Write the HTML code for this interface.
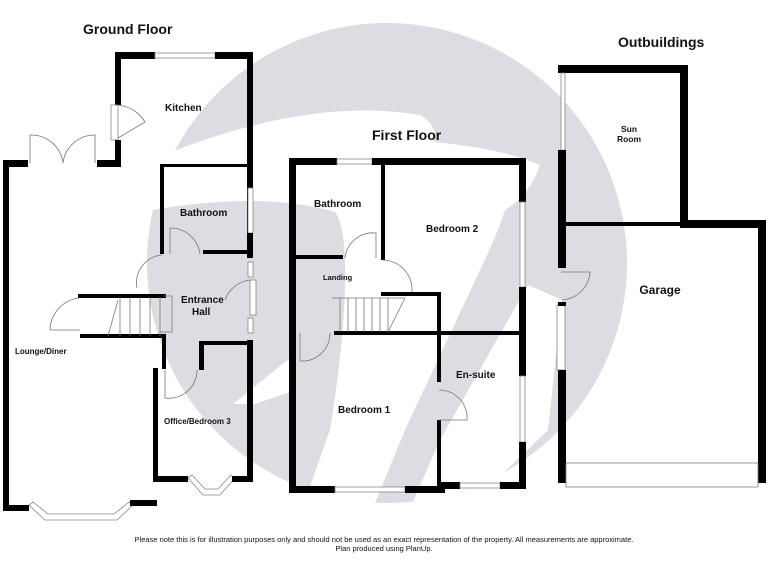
<!DOCTYPE html>
<html><head><meta charset="utf-8"><style>
html,body{margin:0;padding:0;background:#fff;width:768px;height:576px;overflow:hidden}
svg{display:block}
text{font-family:"Liberation Sans",Arial,sans-serif;fill:#111}
.w{fill:#000}
.t{fill:none;stroke:#777;stroke-width:.8}
.win{fill:#fff;stroke:#888;stroke-width:.8}
</style></head><body>
<svg width="768" height="576" viewBox="0 0 768 576">
<!-- watermark -->
<defs><clipPath id="c"><circle cx="387" cy="263" r="240"/></clipPath></defs>
<circle cx="387" cy="263" r="240" fill="#dcdce3"/>
<g clip-path="url(#c)" fill="#fff">
<path d="M140 165 Q300 95 420 115 Q438 125 434 142 Q500 148 540 165 Q530 195 505 210 Q497 235 480 270 L405 430 L368 520 L298 520 L330 430 Q346 330 345 270 Q345 225 335 212 Q260 190 140 212Z"/>
<path d="M528 285 L562 300 L548 430 L470 505 L405 520 L440 440 Z"/>
<path d="M233 404 L290 358 L290 392 L255 404Z"/>
</g>

<!-- titles -->
<text x="83" y="34" font-size="14" font-weight="bold">Ground Floor</text>
<text x="372" y="140" font-size="14" font-weight="bold">First Floor</text>
<text x="618" y="47" font-size="14" font-weight="bold">Outbuildings</text>

<!-- GROUND FLOOR -->
<g>
<rect class="w" x="115" y="52" width="40" height="7"/>
<rect class="win" x="155" y="53" width="60" height="5"/>
<rect class="w" x="215" y="52" width="38" height="7"/>
<rect class="w" x="115" y="52" width="6" height="53"/>
<rect class="win" x="111" y="105" width="7" height="35"/>
<path class="t" d="M118 105 A35 35 0 0 1 145 122 L118 138"/>
<rect class="w" x="115" y="140" width="6" height="27"/>
<rect class="w" x="97" y="160" width="24" height="7"/>
<rect class="w" x="3" y="160" width="25" height="7"/>
<path class="t" d="M30 163 V135 A32 32 0 0 1 63 163 A32 32 0 0 1 95 135 V163"/>
<rect class="w" x="3" y="160" width="6" height="350"/>
<rect class="w" x="247" y="52" width="6" height="205"/>
<rect class="win" x="248" y="188" width="5" height="45"/>
<rect class="w" x="247" y="233" width="6" height="25"/>
<rect class="win" x="248" y="262" width="5" height="15"/>
<rect class="win" x="250" y="280" width="6" height="35"/>
<path class="t" d="M250 280 A30 30 0 0 0 225 300"/>
<rect class="win" x="248" y="318" width="5" height="15"/>
<rect class="w" x="247" y="340" width="6" height="140"/>
<rect class="w" x="160" y="164" width="90" height="3"/>
<rect class="w" x="160" y="164" width="4" height="90"/>
<rect class="w" x="203" y="250" width="47" height="4"/>
<path class="t" d="M170 254 V228 A30 30 0 0 1 200 254"/>
<path class="t" d="M162 255 A28 28 0 0 0 137 288"/>
<rect class="w" x="78" y="294" width="88" height="4"/>
<rect class="w" x="80" y="334" width="84" height="4"/>
<path class="t" d="M120 297 V336 M130 297 V336 M140 297 V336 M150 297 V336 M160 297 V336 M163 296 H172 V332 H160 M108 336 L118 300"/>
<path class="t" d="M79 298 A33 33 0 0 0 50 330 L80 330"/>
<rect class="w" x="162" y="334" width="4" height="35"/>
<rect class="w" x="153" y="368" width="5" height="112"/>
<rect class="w" x="199" y="341" width="52" height="4"/>
<rect class="w" x="199" y="341" width="5" height="29"/>
<path class="t" d="M165 370 V398 A28 28 0 0 0 197 370"/>
<rect class="w" x="3" y="505" width="26" height="6"/>
<path class="win" d="M29 505 L45 520 L117 520 L133 505 L129 502 L114 514 L48 514 L33 502Z"/>
<rect class="w" x="130" y="500" width="27" height="6"/>
<rect class="w" x="153" y="476" width="35" height="6"/>
<path class="win" d="M188 478 L203 495 L220 495 L235 478 L231 475 L218 489 L205 489 L192 475Z"/>
<rect class="w" x="232" y="476" width="21" height="6"/>
<text x="165" y="111" font-size="10" font-weight="bold">Kitchen</text>
<text x="180" y="216" font-size="10" font-weight="bold">Bathroom</text>
<text x="181" y="303" font-size="10" font-weight="bold">Entrance</text>
<text x="192" y="315" font-size="10" font-weight="bold">Hall</text>
<text x="15" y="354" font-size="8" font-weight="bold">Lounge/Diner</text>
<text x="164" y="424" font-size="8" font-weight="bold">Office/Bedroom 3</text>
</g>

<!-- FIRST FLOOR -->
<g>
<rect class="w" x="289" y="158" width="48" height="7"/>
<rect class="win" x="337" y="159" width="35" height="5"/>
<rect class="w" x="372" y="158" width="154" height="7"/>
<rect class="w" x="289" y="158" width="7" height="335"/>
<rect class="w" x="519" y="158" width="7" height="44"/>
<rect class="win" x="520" y="202" width="5" height="85"/>
<rect class="w" x="519" y="287" width="7" height="89"/>
<rect class="win" x="520" y="376" width="5" height="66"/>
<rect class="w" x="519" y="442" width="7" height="47"/>
<rect class="w" x="289" y="486" width="46" height="7"/>
<rect class="win" x="335" y="487" width="70" height="5"/>
<rect class="w" x="405" y="486" width="40" height="7"/>
<rect class="w" x="440" y="482" width="20" height="7"/>
<rect class="win" x="460" y="483" width="40" height="5"/>
<rect class="w" x="500" y="482" width="26" height="7"/>
<rect class="w" x="437" y="420" width="4" height="70"/>
<rect class="w" x="381" y="160" width="4" height="100"/>
<rect class="w" x="295" y="255" width="48" height="4"/>
<path class="t" d="M345 258 A28 28 0 0 1 376 233 V258"/>
<path class="t" d="M383 260 A30 30 0 0 1 412 292"/>
<rect class="w" x="381" y="292" width="60" height="4"/>
<rect class="w" x="437" y="292" width="4" height="90"/>
<rect class="w" x="334" y="331" width="188" height="4"/>
<path class="t" d="M332 298 H405 M340 298 V332 M348 298 V332 M356 298 V332 M364 298 V332 M372 298 V332 M380 298 V332 M388 298 V332 L405 298"/>
<path class="t" d="M300 333 V361 A28 28 0 0 0 330 333"/>
<path class="t" d="M439 390 A28 28 0 0 1 467 420 L439 420"/>
<text x="314" y="207" font-size="10" font-weight="bold">Bathroom</text>
<text x="426" y="232" font-size="10" font-weight="bold">Bedroom 2</text>
<text x="323" y="280" font-size="7.5" font-weight="bold">Landing</text>
<text x="456" y="378" font-size="10" font-weight="bold">En-suite</text>
<text x="338" y="413" font-size="10" font-weight="bold">Bedroom 1</text>
</g>

<!-- OUTBUILDINGS -->
<g>
<rect class="w" x="558" y="65" width="130" height="8"/>
<rect class="w" x="680" y="65" width="8" height="162"/>
<rect class="w" x="566" y="222" width="118" height="4"/>
<rect class="w" x="680" y="220" width="86" height="8"/>
<rect class="w" x="758" y="220" width="8" height="263"/>
<rect class="win" x="561" y="73" width="4" height="77"/>
<rect class="w" x="558" y="150" width="8" height="118"/>
<path class="t" d="M561 272 H590 A30 30 0 0 1 562 300"/>
<rect class="win" x="557" y="305" width="8" height="65"/>
<rect class="w" x="558" y="302" width="8" height="4"/>
<rect class="w" x="558" y="370" width="8" height="113"/>
<path class="t" d="M566 463 H758 M566 487 H758 M566 463 V487 M758 463 V487"/>
<text x="629" y="132" font-size="8.5" font-weight="bold" text-anchor="middle">Sun</text>
<text x="629" y="142" font-size="8.5" font-weight="bold" text-anchor="middle">Room</text>
<text x="660" y="294" font-size="12" font-weight="bold" text-anchor="middle">Garage</text>
</g>

<text x="384" y="542" font-size="7.5" text-anchor="middle">Please note this is for illustration purposes only and should not be used as an exact representation of the property. All measurements are approximate.</text>
<text x="384" y="551" font-size="7.5" text-anchor="middle">Plan produced using PlanUp.</text>
</svg>
</body></html>
